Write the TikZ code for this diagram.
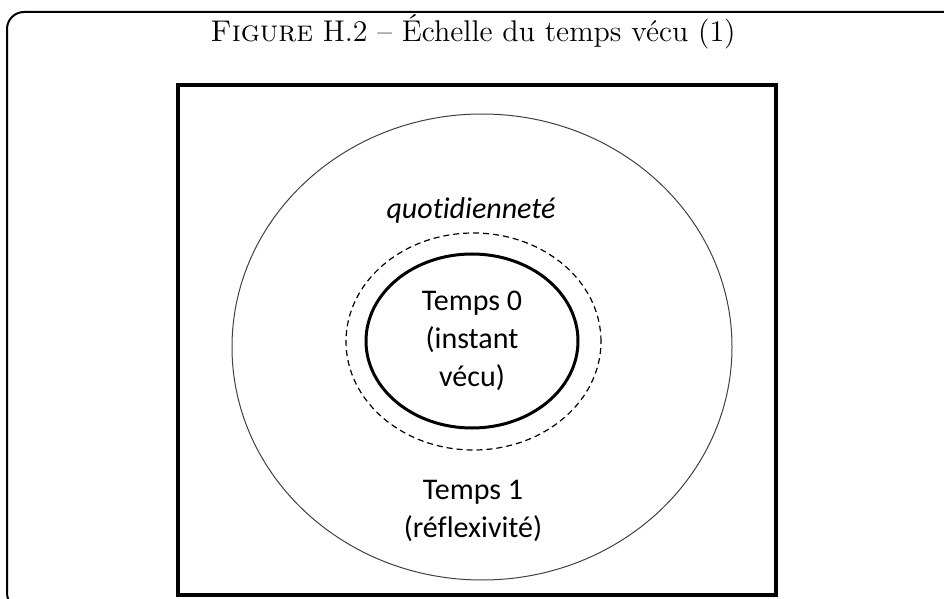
\documentclass[tikz,border=0pt]{standalone}
\usepackage{fontspec}
\newfontfamily\carlito[Ligatures=NoCommon]{Carlito}
\usetikzlibrary{shapes.geometric}

\begin{document}
\begin{tikzpicture}[x=0.5pt, y=-0.5pt,
    frame/.style={draw, line width=1pt, rounded corners=8.5pt},
    board/.style={draw, line width=2pt},
    zone/.style={draw, ellipse, inner sep=0pt},
    label/.style={font=\carlito\fontsize{15}{19}\selectfont, align=center}
]
\clip (0,0) rectangle (944,599);

% cadre de la figure, coupe a droite et en bas
\draw[frame] (7,12) rectangle (980,610);
\node (titre) at (473,32) {\scalebox{1.04}{\fontsize{14.4}{17}\selectfont\textsc{Figure} H.2 -- Échelle du temps vécu (1)}};

\draw[board] (178,85) rectangle (776,595);

\node[zone, draw=black!75, line width=0.5pt, minimum width=250pt, minimum height=233pt] (reflexivite) at (482,347) {};
\node[zone, dashed, dash pattern=on 3pt off 2pt, line width=0.6pt, minimum width=127.5pt, minimum height=108.5pt] (quotidien) at (473.5,341.5) {};
\node[zone, label, line width=1.5pt, minimum width=106pt, minimum height=87pt] (instant) at (472,341) {Temps 0\\(instant\\vécu)};

\node[label] (qlabel) at (471,211) {\itshape quotidienneté};
\node[label] (temps1) at (473,511) {Temps 1\\(réflexivité)};

\end{tikzpicture}
\end{document}
